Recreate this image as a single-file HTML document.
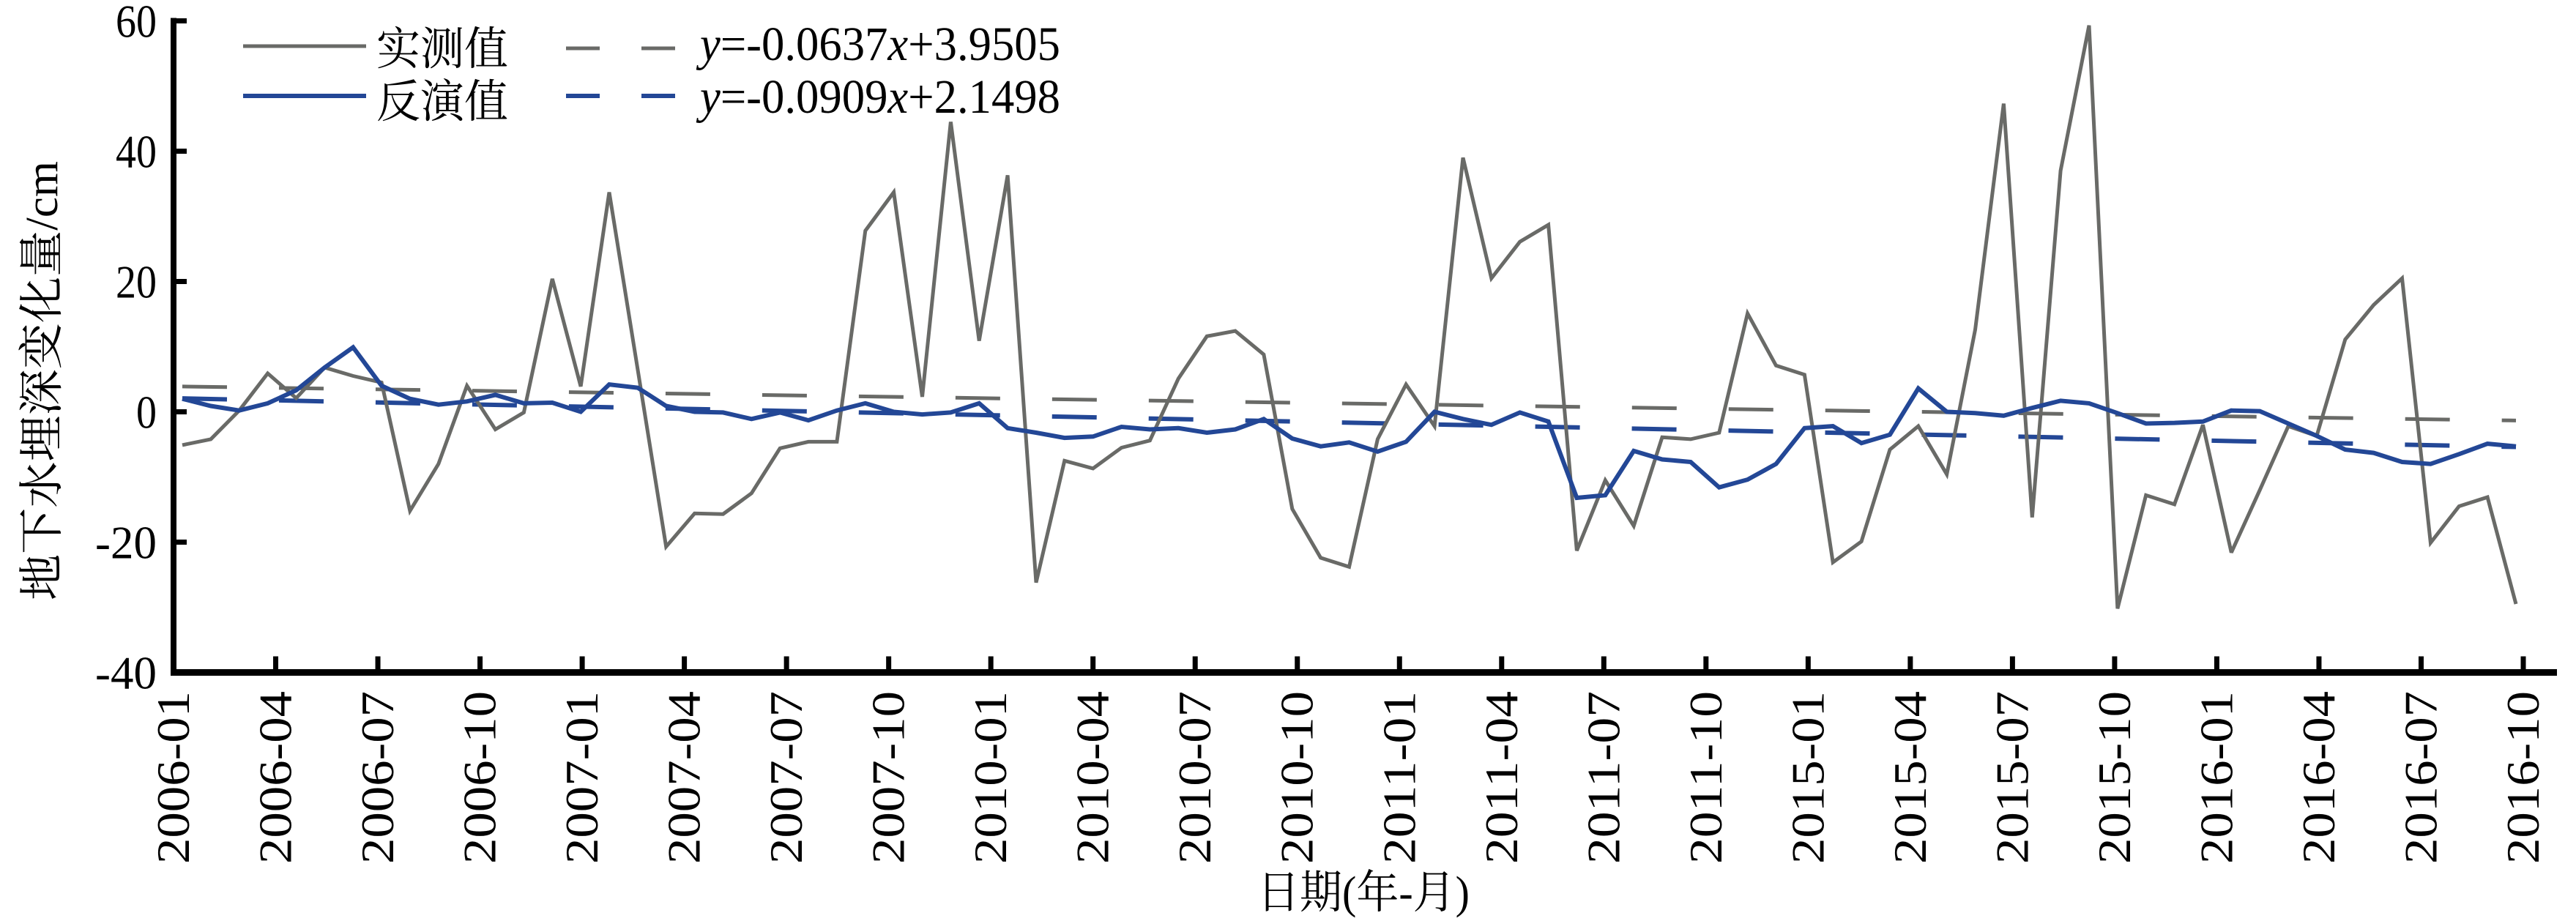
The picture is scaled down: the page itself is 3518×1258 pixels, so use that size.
<!DOCTYPE html>
<html><head><meta charset="utf-8"><style>
html,body{margin:0;padding:0;background:#fff;}
svg{display:block;}
</style></head><body>
<svg id="chart" xmlns="http://www.w3.org/2000/svg" width="3518" height="1258" viewBox="0 0 3518 1258">
<g id="plot"></g>
<g id="axes"></g>
<g id="legend">
  <line x1="332" y1="63" x2="500" y2="63" stroke="#696a67" stroke-width="5"/>
  <text x="514" y="88" font-family="'Liberation Serif','Noto Serif CJK SC',serif" font-size="62" textLength="180" lengthAdjust="spacingAndGlyphs">实测值</text>
  <line x1="332" y1="131" x2="500" y2="131" stroke="#234796" stroke-width="6"/>
  <text x="514" y="160" font-family="'Liberation Serif','Noto Serif CJK SC',serif" font-size="62" textLength="180" lengthAdjust="spacingAndGlyphs">反演值</text>
  <line x1="773" y1="66" x2="940" y2="66" stroke="#696a67" stroke-width="5" stroke-dasharray="46 57"/>
  <line x1="773" y1="131" x2="940" y2="131" stroke="#234796" stroke-width="6" stroke-dasharray="46 57"/>
  <text x="956" y="82" font-family="'Liberation Serif',serif" font-size="66" textLength="492" lengthAdjust="spacingAndGlyphs"><tspan font-style="italic">y</tspan>=-0.0637<tspan font-style="italic">x</tspan>+3.9505</text>
  <text x="956" y="154" font-family="'Liberation Serif',serif" font-size="66" textLength="492" lengthAdjust="spacingAndGlyphs"><tspan font-style="italic">y</tspan>=-0.0909<tspan font-style="italic">x</tspan>+2.1498</text>
</g>
<text transform="translate(78,520) rotate(-90)" text-anchor="middle" font-family="'Liberation Serif','Noto Serif CJK SC',serif" font-size="62" textLength="600" lengthAdjust="spacingAndGlyphs">地下水埋深变化量/cm</text>
<text x="1862" y="1240" text-anchor="middle" font-family="'Liberation Serif','Noto Serif CJK SC',serif" font-size="62" textLength="290" lengthAdjust="spacingAndGlyphs">日期(年-月)</text>
</svg>
<script>
const categories = ["2006-01","2006-04","2006-07","2006-10","2007-01","2007-04","2007-07","2007-10","2010-01","2010-04","2010-07","2010-10","2011-01","2011-04","2011-07","2011-10","2015-01","2015-04","2015-07","2015-10","2016-01","2016-04","2016-07","2016-10"];
const yTicks = [60,40,20,0,-20,-40];
const measured = [-5.1,-4.2,0.2,5.9,2.1,6.8,5.5,4.5,-15.2,-8.0,4.0,-2.7,-0.1,20.4,3.9,33.7,6.5,-20.7,-15.6,-15.7,-12.5,-5.6,-4.6,-4.6,27.8,33.7,2.3,44.5,10.9,36.3,-26.2,-7.5,-8.7,-5.5,-4.4,5.1,11.6,12.4,8.8,-14.9,-22.4,-23.8,-4.2,4.2,-2.2,39.0,20.5,26.1,28.7,-21.3,-10.5,-17.5,-3.9,-4.2,-3.2,15.1,7.1,5.7,-23.1,-19.9,-5.8,-2.2,-9.6,12.6,47.3,-16.2,37.0,59.3,-30.2,-12.8,-14.2,-2.0,-21.6,-12.0,-2.2,-3.7,11.1,16.4,20.5,-20.1,-14.5,-13.1,-29.5];
const inverted = [2.0,0.9,0.2,1.3,3.3,6.8,9.9,4.0,2.0,1.1,1.6,2.6,1.3,1.4,0.0,4.2,3.7,0.9,0.0,-0.1,-1.1,-0.1,-1.3,0.2,1.3,0.0,-0.4,-0.1,1.3,-2.5,-3.2,-4.0,-3.8,-2.3,-2.7,-2.5,-3.2,-2.7,-1.1,-4.1,-5.3,-4.7,-6.1,-4.6,0.0,-1.1,-2.0,-0.1,-1.5,-13.2,-12.8,-6.0,-7.3,-7.7,-11.6,-10.4,-8.0,-2.5,-2.2,-4.8,-3.5,3.6,0.0,-0.2,-0.6,0.6,1.7,1.3,-0.2,-1.8,-1.7,-1.5,0.2,0.1,-1.8,-3.7,-5.8,-6.3,-7.7,-8.0,-6.5,-4.9,-5.3];
const trendMeasured = [-0.0637, 3.9505];
const trendInverted = [-0.0909, 2.1498];

const NS = "http://www.w3.org/2000/svg";
const X0 = 237, XEND = 3492, Y0 = 918.5, YTOP = 28.5;
const yMin = -40, yMax = 60;
function Y(v){ return Y0 - (v - yMin) / (yMax - yMin) * (Y0 - YTOP); }
const n = measured.length;
const px0 = 249, px1 = 3436;
function XP(i){ return px0 + i * (px1 - px0) / (n - 1); }
const tickStep = (3446 - X0) / (categories.length - 1);
function XT(k){ return X0 + k * tickStep; }
function mk(tag, attrs, parent){ const e = document.createElementNS(NS, tag); for (const k in attrs) e.setAttribute(k, attrs[k]); parent.appendChild(e); return e; }

const plot = document.getElementById('plot');
const axes = document.getElementById('axes');

function trend(coef, color, w, name){
  const l = mk('line', {x1: XP(0), y1: Y(coef[0]*1+coef[1]), x2: XP(n-1), y2: Y(coef[0]*n+coef[1]), stroke: color, 'stroke-width': w, 'stroke-dasharray': '61 71'}, plot);
  
  
}
trend(trendMeasured, '#696a67', 5, 'measured-trend-line');
trend(trendInverted, '#234796', 6, 'inverted-trend-line');

function series(vals, color, w, name){
  const pts = vals.map((v,i) => XP(i).toFixed(1) + ',' + Y(v).toFixed(1)).join(' ');
  const p = mk('polyline', {points: pts, fill: 'none', stroke: color, 'stroke-width': w, 'stroke-linejoin': 'miter', 'stroke-miterlimit': 3}, plot);
  
  
}
series(measured, '#696a67', 5, 'measured-series-line');
series(inverted, '#234796', 6, 'inverted-series-line');

const ya = mk('line', {x1: X0, y1: YTOP - 4, x2: X0, y2: Y0 + 4, stroke: '#000', 'stroke-width': 8}, axes);


const xa = mk('line', {x1: X0 - 4, y1: Y0, x2: XEND, y2: Y0, stroke: '#000', 'stroke-width': 9}, axes);



yTicks.forEach(v => {
  const t = mk('line', {x1: X0, y1: Y(v), x2: X0 + 18, y2: Y(v), stroke: '#000', 'stroke-width': 7}, axes);
  
  
  const lb = mk('text', {x: 214, y: Y(v) + 22, 'text-anchor': 'end', 'font-family': "'Liberation Serif',serif", 'font-size': 64, 'textLength': (String(v).length * 28), 'lengthAdjust': 'spacingAndGlyphs'}, axes);
  lb.textContent = String(v);
  
  
});

categories.forEach((c, k) => {
  const x = XT(k);
  if (k > 0) {
    const t = mk('line', {x1: x, y1: Y0, x2: x, y2: Y0 - 22, stroke: '#000', 'stroke-width': 7}, axes);
    
    
  }
  const lb = mk('text', {transform: 'translate(' + (x + 21) + ',944) rotate(-90)', 'text-anchor': 'end', 'font-family': "'Liberation Serif',serif", 'font-size': 64, 'textLength': 236, 'lengthAdjust': 'spacingAndGlyphs'}, axes);
  lb.textContent = c;
  
  
});
</script>
</body></html>
